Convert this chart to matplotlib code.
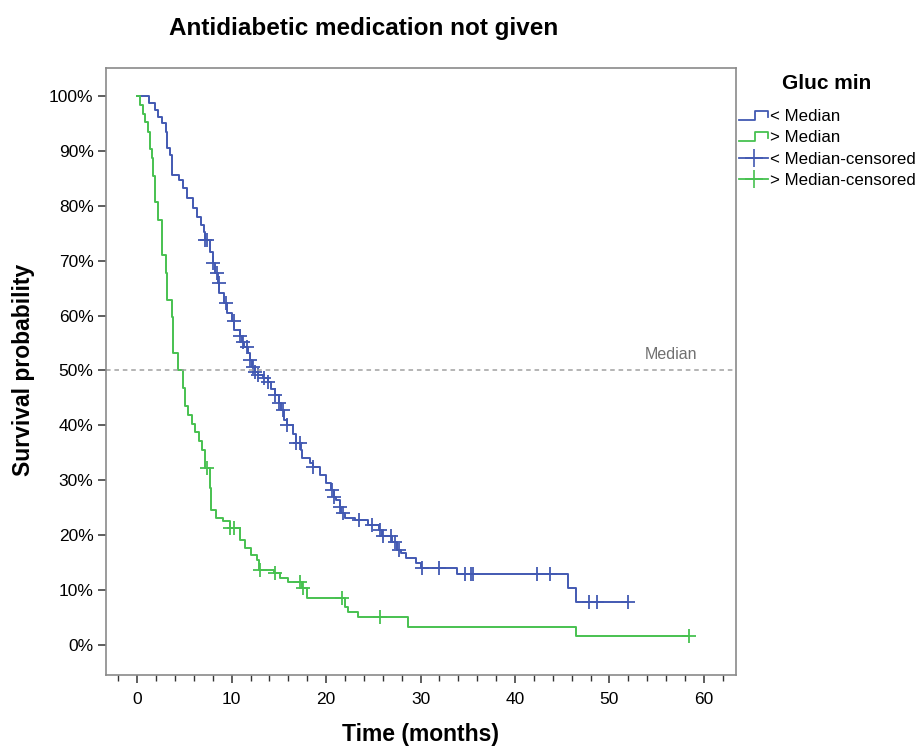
import numpy as np
import matplotlib
matplotlib.use("Agg")
import matplotlib.pyplot as plt
from matplotlib.lines import Line2D
from matplotlib.legend_handler import HandlerBase

plt.rcParams['font.family'] = ['Liberation Sans', 'DejaVu Sans']

# ---- data ----
group_labels = ["< Median", "> Median"]
censor_labels = ["< Median-censored", "> Median-censored"]

blue_event_t = [1.2, 1.9, 2.2, 2.6, 3.0, 3.2, 3.5, 3.7, 4.4, 4.9, 5.3, 5.9, 6.3, 6.8,
                7.1, 7.2, 7.7, 8.0, 8.2, 8.6, 8.7, 9.2, 9.5, 10.0, 10.3, 10.9, 11.1,
                11.3, 11.7, 11.9, 12.2, 12.5, 12.8, 13.3, 13.8, 14.2, 14.6, 15.0,
                15.2, 15.5, 15.9, 16.5, 16.8, 17.3, 17.5, 18.3, 18.6, 19.4, 20.0,
                20.5, 20.8, 21.1, 21.5, 21.6, 22.0, 23.1, 24.4, 25.6, 25.9, 27.0,
                27.5, 27.9, 28.5, 29.5, 30.0, 33.9, 45.6, 46.5]
blue_event_s = [98.7, 97.4, 96.2, 95.0, 93.4, 90.5, 89.3, 85.6, 84.7, 83.2, 81.4, 79.6,
                78.0, 76.5, 75.2, 73.8, 71.6, 69.5, 67.8, 66.0, 64.1, 62.3, 60.5, 59.0,
                57.4, 56.3, 55.2, 54.3, 53.2, 51.9, 50.6, 49.7, 49.2, 48.6, 47.9, 46.7,
                45.5, 44.0, 42.8, 41.0, 40.1, 38.5, 36.8, 35.5, 34.1, 33.2, 32.4, 31.0,
                29.5, 28.2, 27.0, 26.4, 25.2, 24.0, 23.1, 22.8, 21.9, 20.9, 19.9, 18.8,
                17.3, 16.8, 15.8, 14.9, 14.0, 12.9, 10.4, 7.8]
blue_end = 52.0
blue_censor_t = [7.2, 7.4, 8.0, 8.5, 8.65, 9.4, 10.2, 10.9, 11.2, 11.6, 11.9, 12.3, 12.5,
                 12.8, 13.4, 13.9, 14.6, 15.0, 15.4, 15.9, 16.8, 17.2, 18.6, 20.6, 20.8,
                 21.5, 21.8, 23.5, 24.9, 25.7, 26.0, 26.9, 27.3, 27.7, 30.2, 32.0, 34.7,
                 35.3, 35.6, 42.3, 43.7, 47.8, 48.7, 52.0]

green_event_t = [0.3, 0.6, 0.85, 1.15, 1.4, 1.6, 1.7, 1.9, 2.2, 2.6, 3.0, 3.2, 3.7, 3.8,
                 4.3, 4.8, 5.1, 5.4, 5.8, 6.1, 6.5, 6.9, 7.2, 7.7, 7.8, 8.3, 9.1, 9.8,
                 10.9, 11.4, 12.0, 12.7, 12.9, 14.5, 15.1, 16.0, 17.5, 18.0, 22.0, 22.3,
                 23.4, 28.7, 46.5]
green_event_s = [98.4, 96.8, 95.2, 93.5, 90.3, 88.7, 85.5, 80.6, 77.4, 71.0, 67.7, 62.9,
                 59.7, 53.2, 50.0, 46.8, 43.5, 41.9, 40.3, 38.7, 37.1, 35.5, 32.2, 28.5,
                 24.6, 23.1, 22.6, 21.3, 19.1, 17.7, 16.4, 15.5, 13.7, 13.1, 12.2, 11.5,
                 10.4, 8.6, 6.9, 6.0, 5.1, 3.3, 1.6]
green_end = 58.4
green_censor_t = [7.4, 9.8, 10.2, 13.0, 14.6, 17.2, 17.6, 21.7, 25.7, 58.4]

x_ticks = [0, 10, 20, 30, 40, 50, 60]
y_ticks = [0, 10, 20, 30, 40, 50, 60, 70, 80, 90, 100]

blue = '#4259b2'
green = '#47c150'


def step_xy(times, surv, end):
    t = np.concatenate([[0.0], times, [end]])
    s = np.concatenate([[100.0], surv, [surv[-1]]])
    return t, s


def level_at(times, surv, ct):
    times = np.asarray(times)
    surv = np.asarray(surv)
    idx = np.searchsorted(times, ct, side='right') - 1
    return np.where(idx < 0, 100.0, surv[np.clip(idx, 0, None)])


fig = plt.figure(figsize=(9.23, 7.47), dpi=100)
ax = fig.add_axes([106/923, 1-675/747, (736-106)/923, (675-68)/747])

series = [
    (blue_event_t, blue_event_s, blue_end, blue_censor_t, blue),
    (green_event_t, green_event_s, green_end, green_censor_t, green),
]
for et, es, end, ct, col in series:
    t, s = step_xy(et, es, end)
    ax.step(t, s, where='post', color=col, lw=1.4)
    cy = level_at(et, es, np.asarray(ct))
    ax.plot(ct, cy, linestyle='none', marker='+', markersize=10, mew=1.3, color=col)

ax.axhline(50, color='#a0a0a0', lw=1.1, ls=(0, (3, 2.5)))
ax.text(59.3, 51.5, 'Median', color='#707070', fontsize=11.5, ha='right', va='bottom')

ax.set_xlim(-3.3, 63.4)
ax.set_ylim(-5.5, 105.1)
ax.set_xticks(x_ticks)
ax.set_xticks(np.arange(-2, 64, 2), minor=True)
ax.set_yticks(y_ticks)
ax.set_yticklabels([f'{v}%' for v in y_ticks])
ax.tick_params(axis='both', which='major', labelsize=12.5, length=6, width=1.1, color='#333333')
ax.tick_params(axis='x', which='minor', length=4, width=1.0, color='#333333')
ax.tick_params(axis='x', pad=6)
ax.tick_params(axis='y', pad=3)
for sp in ax.spines.values():
    sp.set_color('#8a8a8a')
    sp.set_linewidth(1.2)

fig.text(364/923, 1-28/747, 'Antidiabetic medication not given', ha='center', va='center',
         fontsize=17.5, fontweight='bold')
fig.text(420/923, 1-734/747, 'Time (months)', ha='center', va='center', fontsize=16.5,
         fontweight='bold')
fig.text(24/923, 1-370/747, 'Survival probability', ha='center', va='center', fontsize=16.5,
         fontweight='bold', rotation=90)


class HandlerStep(HandlerBase):
    def create_artists(self, legend, orig_handle, xdescent, ydescent, width, height,
                       fontsize, trans):
        x0 = -xdescent
        xs = [x0, x0 + width*0.55, x0 + width*0.55, x0 + width, x0 + width]
        ys = [-ydescent + height*0.1, -ydescent + height*0.1, -ydescent + height*0.85,
              -ydescent + height*0.85, -ydescent + height*0.4]
        ln = Line2D(xs, ys, color=orig_handle.get_color(), lw=1.3)
        ln.set_transform(trans)
        return [ln]


h1 = Line2D([], [], color=blue)
h2 = Line2D([], [], color=green)
h3 = Line2D([0], [0], color=blue, marker='+', markersize=13, mew=1.2, lw=1.3)
h4 = Line2D([0], [0], color=green, marker='+', markersize=13, mew=1.2, lw=1.3)
leg = fig.legend([h1, h2, h3, h4], group_labels + censor_labels,
                 handler_map={h1: HandlerStep(), h2: HandlerStep()},
                 loc='upper left', bbox_to_anchor=(737/923, 1-72/747), frameon=False,
                 title='Gluc min', fontsize=12.2, handlelength=1.75, handletextpad=0.08,
                 labelspacing=0.36, borderaxespad=0, borderpad=0.1)
leg.get_title().set_fontweight('bold')
leg.get_title().set_fontsize(15)
leg._legend_box.sep = 12

fig.savefig('out.png', dpi=100)
